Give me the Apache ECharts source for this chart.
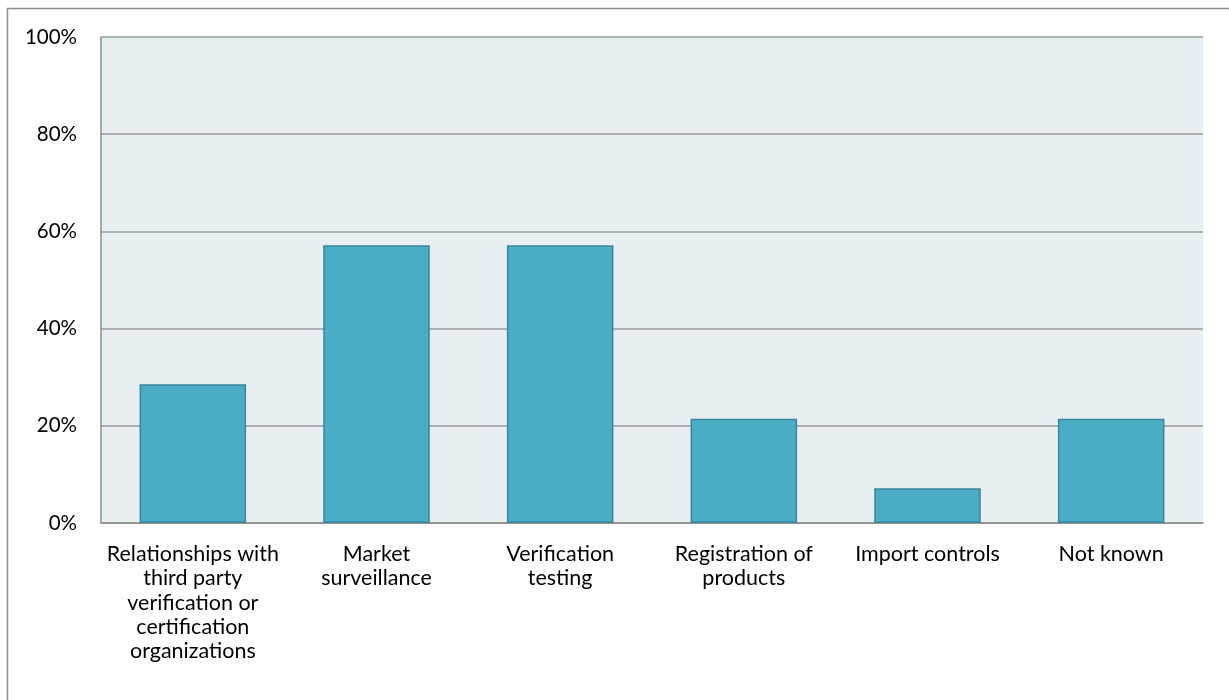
<!DOCTYPE html>
<html>
<head>
<meta charset="utf-8">
<script src="https://cdn.jsdelivr.net/npm/echarts@6/dist/echarts.min.js"></script>
<style>
html,body{margin:0;padding:0;background:#fff;}
#chart{width:1229px;height:700px;}
</style>
</head>
<body>
<div id="chart"></div>
<script>
const categories = [
  "Relationships with\nthird party\nverification or\ncertification\norganizations",
  "Market\nsurveillance",
  "Verification\ntesting",
  "Registration of\nproducts",
  "Import controls",
  "Not known"
];
const values = [28.57, 57.14, 57.14, 21.43, 7.14, 21.43];
const yTicks = [0, 20, 40, 60, 80, 100];

const chart = echarts.init(document.getElementById('chart'));
chart.setOption({
  animation: false,
  textStyle: { fontFamily: 'Lato, "Open Sans", sans-serif' },
  graphic: [{
    type: 'rect',
    silent: true,
    shape: { x: 7.5, y: 8.5, width: 1300, height: 800 },
    style: { fill: 'none', stroke: '#8c8c8c', lineWidth: 1.5 }
  }],
  grid: {
    left: 101, right: 26, top: 37, bottom: 177,
    show: true, backgroundColor: '#E8EFF3', borderWidth: 0
  },
  xAxis: {
    type: 'category',
    data: categories,
    axisTick: { show: false },
    axisLine: { show: true, lineStyle: { color: '#8c8c8c', width: 1.5 } },
    axisLabel: {
      color: '#000', fontSize: 21.5, lineHeight: 24.3, margin: 19,
      interval: 0, align: 'center'
    }
  },
  yAxis: {
    type: 'value',
    min: 0, max: 100, interval: 20,
    axisLine: { show: true, lineStyle: { color: '#8c8c8c', width: 1.5 } },
    axisTick: { show: false },
    splitLine: { lineStyle: { color: '#9a9a9a', width: 1.5 } },
    axisLabel: {
      color: '#000', fontSize: 20.5, margin: 24,
      formatter: v => yTicks.includes(v) ? v + '%' : ''
    }
  },
  series: [{
    type: 'bar',
    data: values,
    barWidth: '58%',
    itemStyle: { color: '#4BACC6', borderColor: '#3A8599', borderWidth: 1.5 }
  }]
});
</script>
</body>
</html>
